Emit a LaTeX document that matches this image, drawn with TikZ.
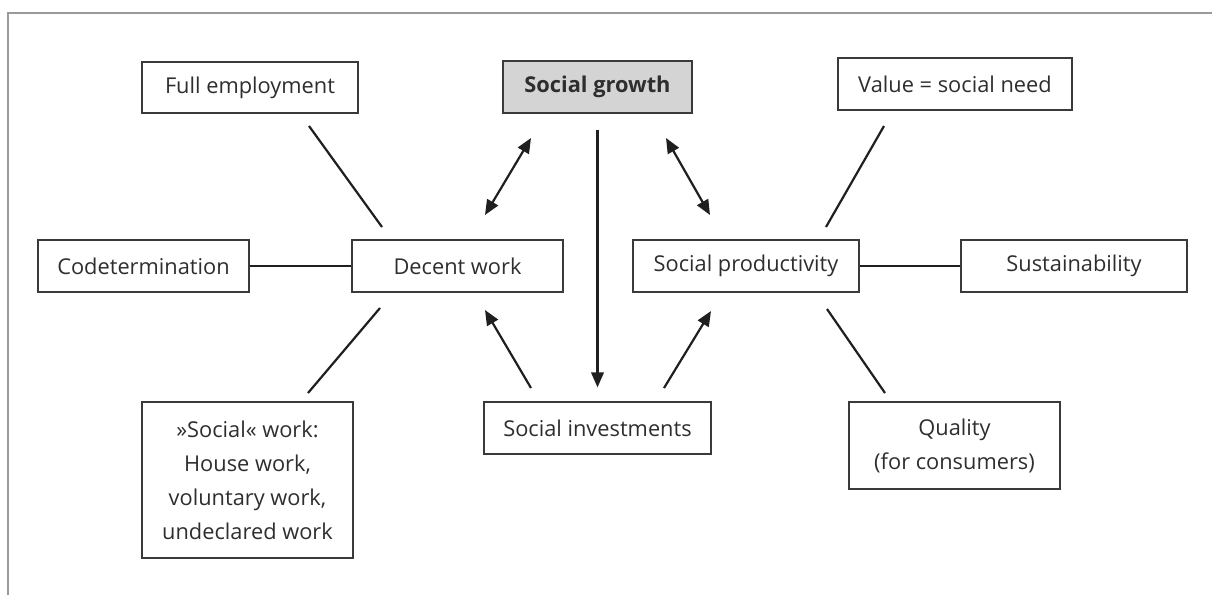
\documentclass[tikz,border=0pt]{standalone}
\usepackage{fontspec}
\setmainfont{Open Sans}
\usetikzlibrary{arrows.meta,calc}
\definecolor{txt}{HTML}{2E2E2E}
\definecolor{boxline}{HTML}{3A3A3A}
\definecolor{frame}{HTML}{9A9A9A}
\definecolor{sgfill}{HTML}{D4D4D4}
\tikzset{
  box/.style={draw=boxline,line width=1.2pt,text=txt,align=center,inner sep=0pt,
    font=\fontsize{21.8}{34}\selectfont},
  link/.style={draw=black!88,line width=2.2pt},
  arr/.style={link,-{Triangle[length=15pt,width=12.5pt]}},
  darr/.style={link,{Triangle[length=15pt,width=12.5pt]}-{Triangle[length=15pt,width=12.5pt]}},
}
\begin{document}
\begin{tikzpicture}[x=1pt,y=-1pt]
\useasboundingbox (0,0) rectangle (1212,595);
\draw[frame,line width=1.3pt] (8,595) -- (8,13) -- (1212,13);

\node[box,minimum width=216,minimum height=51] (fe) at (250,87.5) {Full employment};
\node[box,minimum width=189,minimum height=52,fill=sgfill,font=\fontsize{21.8}{34}\selectfont\bfseries] (sg) at (597.5,87) {Social growth};
\node[box,minimum width=234,minimum height=52] (vn) at (955,84) {Value = social need};
\node[box,minimum width=211,minimum height=52] (co) at (143.5,266) {Codetermination};
\node[box,minimum width=211,minimum height=52] (dw) at (457.5,266) {Decent work};
\node[box,minimum width=226,minimum height=52] (sp) at (746,266) {Social productivity};
\node[box,minimum width=226,minimum height=52] (su) at (1074,266) {Sustainability};
\node[box,minimum width=211,minimum height=156] (sw) at (247.5,480) {»Social« work:\\House work,\\voluntary work,\\undeclared work};
\node[box,minimum width=227,minimum height=52] (si) at (597.5,428) {Social investments};
\node[box,minimum width=211,minimum height=87] (qu) at (954.5,445.5) {Quality\\(for consumers)};

\draw[link] ($(fe.center)+(59,38.5)$) -- ($(dw.center)+(-75.5,-39)$);
\draw[link] (co) -- (dw);
\draw[link] ($(dw.center)+(-77.5,42)$) -- ($(sw.center)+(60.5,-87)$);
\draw[darr] ($(dw.center)+(27.5,-51)$) -- ($(sg.center)+(-66.5,51)$);
\draw[arr,shorten <=16pt,shorten >=14pt] (sg) -- (si);
\draw[darr] ($(sg.center)+(68.5,51)$) -- ($(sp.center)+(-36,-51)$);
\draw[arr] ($(si.center)+(-66.5,-40)$) -- ($(dw.center)+(27.5,44)$);
\draw[arr] ($(si.center)+(66.5,-40)$) -- ($(sp.center)+(-35,45)$);
\draw[link] ($(sp.center)+(80,-39)$) -- ($(vn.center)+(-71,42)$);
\draw[link] (sp) -- (su);
\draw[link] ($(sp.center)+(81,43)$) -- ($(qu.center)+(-69.5,-52.5)$);
\end{tikzpicture}
\end{document}
